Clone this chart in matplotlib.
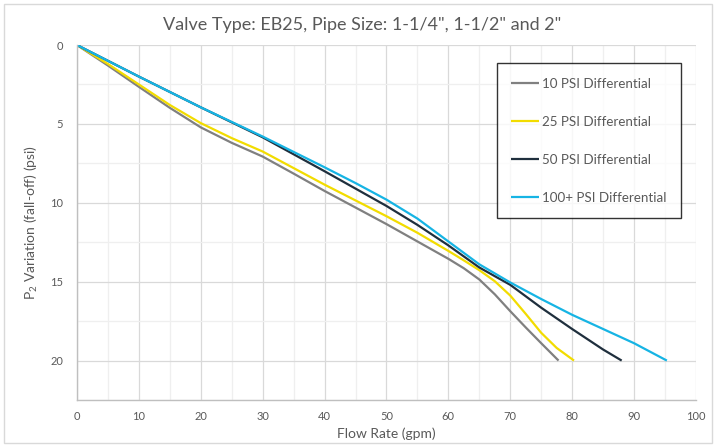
import numpy as np
import matplotlib
matplotlib.use("Agg")
import matplotlib.pyplot as plt
from matplotlib.patches import Rectangle
from matplotlib.ticker import MultipleLocator

plt.rcParams["font.family"] = ["Lato", "DejaVu Sans"]
plt.rcParams["mathtext.fontset"] = "custom"
plt.rcParams["mathtext.rm"] = "Lato"

# flow rate (gpm) vs P2 fall-off (psi)
flow_10 = [0, 5, 10, 15, 20, 25, 30, 35, 40, 45, 50, 55, 60, 62.5, 65, 67.5, 70, 72.5, 75, 77.8]
drop_10 = [0, 1.3, 2.65, 3.98, 5.22, 6.2, 7.07, 8.15, 9.25, 10.3, 11.35, 12.45, 13.55, 14.15, 14.86,
           15.8, 16.87, 17.9, 18.9, 20]

flow_25 = [0, 5, 10, 15, 20, 25, 30, 35, 40, 45, 50, 55, 60, 62.5, 65, 67.5, 70, 72.5, 75, 77.5, 80.3]
drop_25 = [0, 1.2, 2.5, 3.8, 4.95, 5.9, 6.75, 7.8, 8.85, 9.85, 10.85, 11.9, 13.05, 13.65, 14.27,
           14.97, 15.88, 17.04, 18.24, 19.2, 20]

flow_50 = [0, 10, 20, 30, 40, 45, 50, 55, 60, 65, 70, 75, 80, 85, 88]
drop_50 = [0, 2.0, 3.95, 5.85, 8.0, 9.1, 10.2, 11.4, 12.7, 14.1, 15.2, 16.65, 18.0, 19.3, 20]

flow_100 = [0, 10, 20, 30, 40, 45, 50, 55, 60, 65, 70, 75, 80, 85, 90, 95.3]
drop_100 = [0, 2.0, 3.95, 5.8, 7.75, 8.75, 9.8, 11.0, 12.45, 13.9, 15.05, 16.1, 17.1, 18.0, 18.9, 20]

labels = ["10 PSI Differential", "25 PSI Differential",
          "50 PSI Differential", "100+ PSI Differential"]
colors = ["#808080", "#f2dc00", "#1f2f3d", "#16b4e4"]

fig = plt.figure(figsize=(7.16, 4.47), dpi=100)
ax = fig.add_axes([0.1075, 0.1051, 0.8645, 0.7942])

for fx, dy, lab, col in zip([flow_10, flow_25, flow_50, flow_100],
                            [drop_10, drop_25, drop_50, drop_100],
                            labels, colors):
    ax.plot(fx, dy, color=col, lw=1.6, label=lab, solid_capstyle="butt",
            solid_joinstyle="round")

ax.set_xlim(0, 100)
ax.set_ylim(22.5, 0)
ax.xaxis.set_major_locator(MultipleLocator(10))
ax.xaxis.set_minor_locator(MultipleLocator(5))
ax.yaxis.set_major_locator(MultipleLocator(5))
ax.yaxis.set_minor_locator(MultipleLocator(2.5))
ax.grid(True, which="major", color="#d9d9d9", lw=0.9)
ax.grid(True, which="minor", color="#efefef", lw=0.9)
ax.set_axisbelow(True)

for s in ["top", "right"]:
    ax.spines[s].set_visible(False)
for s in ["left", "bottom"]:
    ax.spines[s].set_color("#bfbfbf")
    ax.spines[s].set_linewidth(1.0)

ax.tick_params(which="both", length=0, labelsize=8, labelcolor="#595959")
ax.tick_params(axis="y", pad=10)
ax.tick_params(axis="x", pad=8)

# title is centred on the whole chart, not on the plot area
fig.text(0.506, 0.945, 'Valve Type: EB25, Pipe Size: 1-1/4", 1-1/2" and 2"',
         fontsize=13, color="#595959", ha="center", va="center")
ax.set_xlabel("Flow Rate (gpm)", fontsize=10, color="#595959", labelpad=4)
ax.set_ylabel(r"P$_\mathregular{2}$ Variation (fall-off) (psi)",
              fontsize=10, color="#595959", labelpad=7)

leg = ax.legend(loc="upper left", bbox_to_anchor=(0.678, 0.949), fontsize=9.6,
                frameon=True, fancybox=False, edgecolor="black",
                labelspacing=1.95, handlelength=2.1, handletextpad=0.2,
                borderpad=1.1, borderaxespad=0)
leg.get_frame().set_linewidth(1.0)
for t in leg.get_texts():
    t.set_color("#595959")

fig.patches.append(Rectangle((4 / 716, 4 / 447), 1 - 8 / 716, 1 - 8 / 447,
                             transform=fig.transFigure, fill=False,
                             edgecolor="#d9d9d9", lw=1.0))

fig.savefig("out.png", dpi=100)
